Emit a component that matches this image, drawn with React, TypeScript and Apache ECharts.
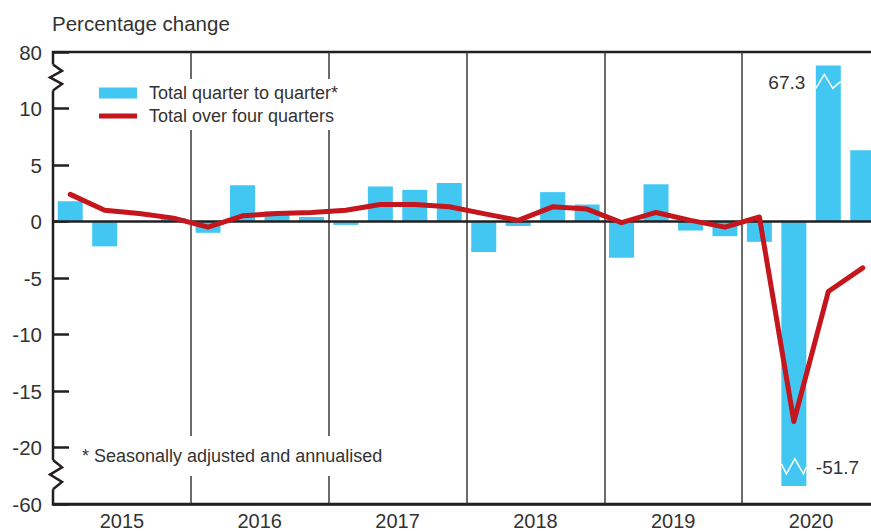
import React, { useEffect, useRef } from "react";
import * as echarts from "echarts";

const quarters = [
  "2015 Q1", "2015 Q2", "2015 Q3", "2015 Q4",
  "2016 Q1", "2016 Q2", "2016 Q3", "2016 Q4",
  "2017 Q1", "2017 Q2", "2017 Q3", "2017 Q4",
  "2018 Q1", "2018 Q2", "2018 Q3", "2018 Q4",
  "2019 Q1", "2019 Q2", "2019 Q3", "2019 Q4",
  "2020 Q1", "2020 Q2", "2020 Q3", "2020 Q4",
];
const years = ["2015", "2016", "2017", "2018", "2019", "2020"];
const quarterToQuarter = [
  1.8, -2.2, 0.0, 0.3,
  -1.0, 3.2, 0.9, 0.4,
  -0.3, 3.1, 2.8, 3.4,
  -2.7, -0.4, 2.6, 1.5,
  -3.2, 3.3, -0.8, -1.3,
  -1.8, -51.7, 67.3, 6.3,
];
const overFourQuarters = [
  2.4, 1.0, 0.7, 0.3,
  -0.5, 0.5, 0.7, 0.8,
  1.0, 1.5, 1.5, 1.3,
  0.7, 0.1, 1.3, 1.1,
  -0.1, 0.8, 0.1, -0.5,
  0.4, -17.7, -6.2, -4.1,
];
// broken axis: displayed range is -25..15, values beyond are drawn clipped
const axisTop = 15;
const axisBottom = -25;
const axisTopLabel = "80";
const axisBottomLabel = "-60";
const brokenTopShown = 13.8;
const brokenBottomShown = -23.4;

const FONT = "'Liberation Sans', Arial, sans-serif";
const DARK = "#231f20";
const BLUE = "#42c7f3";
const RED = "#c4161c";
const TEXT = "#333333";

export default function App() {
  const ref = useRef<HTMLDivElement>(null);
  useEffect(() => {
    if (!ref.current) return;
    const chart = echarts.init(ref.current, null, { renderer: "svg" });
    const barData = quarterToQuarter.map((v) =>
      v > axisTop ? brokenTopShown : v < axisBottom ? brokenBottomShown : v
    );
    const gridLeft = 53;
    const option: any = {
      animation: false,
      textStyle: { fontFamily: FONT },
      title: {
        text: "Percentage change",
        left: 47,
        top: 8,
        textStyle: { fontSize: 20.5, fontWeight: "normal", color: TEXT, fontFamily: FONT },
      },
      grid: {
        left: gridLeft,
        top: 52,
        bottom: 27,
        right: -9,
        outerBoundsMode: "none",
        containLabel: false,
        show: true,
        borderColor: DARK,
        borderWidth: 2.5,
        backgroundColor: "transparent",
      },
      legend: {
        orient: "vertical",
        left: 94,
        top: 79,
        backgroundColor: "#fff",
        padding: [5, 12, 5, 5],
        itemWidth: 38,
        itemHeight: 11,
        itemGap: 5,
        textStyle: {
          fontSize: 18,
          lineHeight: 18,
          color: TEXT,
          fontFamily: FONT,
          padding: [0, 0, 0, 7],
        },
        data: [
          { name: "Total quarter to quarter*", icon: "rect" },
          {
            name: "Total over four quarters",
            icon: "path://M0,0 L38,0 L38,0.01 L0,0.01 Z M0,3 L38,3 L38,8 L0,8 Z M0,10.99 L38,10.99 L38,11 L0,11 Z",
          },
        ],
        z: 20,
      },
      xAxis: [
        {
          type: "category",
          data: quarters,
          position: "top",
          axisLine: { show: false },
          axisTick: { show: false },
          axisLabel: { show: false },
          splitLine: {
            show: true,
            interval: (i: number) => i > 0 && i % 4 === 0,
            lineStyle: { color: "#3a3a3a", width: 1.5 },
          },
        },
        {
          type: "category",
          data: years,
          position: "bottom",
          axisLine: { show: true, lineStyle: { color: DARK, width: 2.5 } },
          axisTick: { show: false },
          axisLabel: { fontSize: 20, lineHeight: 17, color: TEXT, margin: 8, fontFamily: FONT },
          splitLine: { show: false },
        },
      ],
      yAxis: {
        type: "value",
        min: axisBottom,
        max: axisTop,
        interval: 5,
        axisLine: { show: false },
        axisTick: {
          show: true,
          inside: true,
          length: 16,
          lineStyle: { color: DARK, width: 2.5 },
        },
        splitLine: { show: false },
        axisLabel: {
          fontSize: 20.5,
          color: TEXT,
          margin: 11,
          fontFamily: FONT,
          formatter: (v: number) =>
            v === axisTop ? axisTopLabel : v === axisBottom ? axisBottomLabel : String(v),
        },
      },
      series: [
        {
          name: "Total quarter to quarter*",
          type: "bar",
          xAxisIndex: 0,
          data: barData,
          barWidth: 25,
          itemStyle: { color: BLUE },
          markLine: {
            silent: true,
            symbol: "none",
            label: { show: false },
            lineStyle: { color: DARK, width: 2.5, type: "solid" },
            data: [{ yAxis: 0 }],
            z: 3,
          },
          markPoint: {
            silent: true,
            symbol: "circle",
            symbolSize: 0,
            data: [
              {
                coord: [22, 12.3],
                label: {
                  show: true,
                  formatter: "67.3",
                  position: "left",
                  distance: 23,
                  fontSize: 19,
                  color: TEXT,
                  fontFamily: FONT,
                },
              },
              {
                coord: [21, -21.8],
                label: {
                  show: true,
                  formatter: "-51.7",
                  position: "right",
                  distance: 22,
                  fontSize: 19,
                  color: TEXT,
                  fontFamily: FONT,
                },
              },
            ],
          },
        },
        {
          name: "Total over four quarters",
          type: "line",
          xAxisIndex: 0,
          data: overFourQuarters,
          symbol: "none",
          lineStyle: { color: RED, width: 5, join: "round", cap: "round" },
          itemStyle: { color: RED },
          z: 5,
        },
      ],
    };
    chart.setOption(option);

    const px = (c: number, v: number) =>
      chart.convertToPixel({ xAxisIndex: 0, yAxisIndex: 0 }, [c, v]) as number[];
    const axisZig = (va: number, vb: number) => {
      const ya = px(0, va)[1];
      const yb = px(0, vb)[1];
      const h = yb - ya;
      const L = gridLeft;
      return [
        { type: "rect", shape: { x: L - 3, y: ya, width: 6, height: h }, style: { fill: "#fff" }, z: 30 },
        {
          type: "polyline",
          shape: {
            points: [
              [L, ya],
              [L + 9, ya + h * 0.25],
              [L - 3, ya + h * 0.5],
              [L + 9, ya + h * 0.75],
              [L, yb],
            ],
          },
          style: { stroke: DARK, lineWidth: 2.5, fill: "none" },
          z: 31,
        },
      ];
    };
    const topAnchor = px(22, 12.4);
    const botAnchor = px(21, -21.8);
    const graphic: any[] = [
      ...axisZig(13.9, 11.6),
      ...axisZig(-21.1, -23.7),
      {
        type: "polyline",
        shape: {
          points: [
            [topAnchor[0] - 12.5, topAnchor[1] + 7],
            [topAnchor[0] - 4, topAnchor[1] - 7],
            [topAnchor[0] + 4.5, topAnchor[1] + 7],
            [topAnchor[0] + 12.5, topAnchor[1]],
          ],
        },
        style: { stroke: "#fff", lineWidth: 1.5, fill: "none" },
        z: 30,
      },
      {
        type: "polyline",
        shape: {
          points: [
            [botAnchor[0] - 12.5, botAnchor[1] - 4],
            [botAnchor[0] - 7.5, botAnchor[1] + 6],
            [botAnchor[0] + 1, botAnchor[1] - 9],
            [botAnchor[0] + 9.5, botAnchor[1] + 6],
            [botAnchor[0] + 12.5, botAnchor[1] - 1],
          ],
        },
        style: { stroke: "#fff", lineWidth: 1.5, fill: "none" },
        z: 30,
      },
      {
        type: "text",
        left: 76,
        top: 436,
        style: {
          text: "* Seasonally adjusted and annualised",
          fontSize: 18,
          fill: TEXT,
          fontFamily: FONT,
          backgroundColor: "#fff",
          padding: [11, 6],
        },
        z: 30,
      },
    ];
    chart.setOption({ graphic });

    return () => chart.dispose();
  }, []);
  return <div ref={ref} style={{ width: 871, height: 531, position: "absolute", left: 0, top: 0 }} />;
}
